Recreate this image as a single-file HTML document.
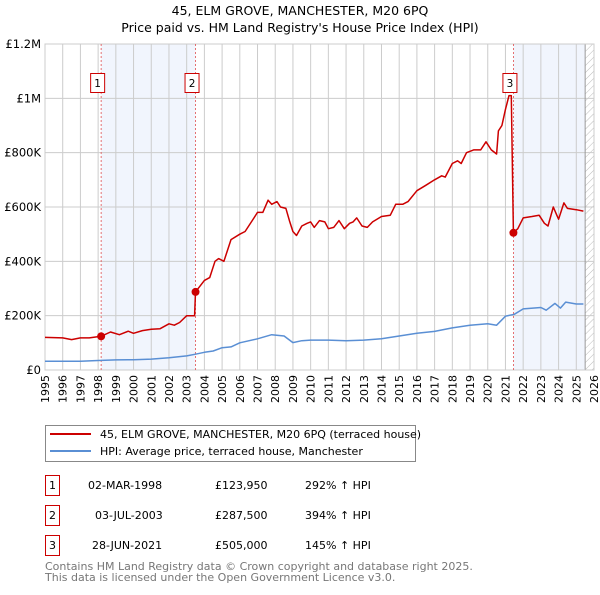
<!DOCTYPE html>
<html><head><meta charset="utf-8"><style>
body{margin:0;background:#fff;font-family:"Liberation Sans","DejaVu Sans",sans-serif}
svg text{font-family:"DejaVu Sans","Liberation Sans",sans-serif}
</style></head><body>
<svg id="c" width="600" height="590" xmlns="http://www.w3.org/2000/svg">
<defs><pattern id="hatch" width="5" height="5" patternUnits="userSpaceOnUse" patternTransform="rotate(45)"><line x1="0" y1="0" x2="0" y2="5" stroke="#bbb" stroke-width="1"/></pattern></defs>
<text x="300" y="15" text-anchor="middle" font-size="12.5">45, ELM GROVE, MANCHESTER, M20 6PQ</text>
<text x="300" y="32" text-anchor="middle" font-size="12.5">Price paid vs. HM Land Registry's House Price Index (HPI)</text>
<g id="plot"></g>
<g>
<rect x="45.5" y="425.5" width="370" height="36" fill="#fff" stroke="#888"/>
<line x1="50" y1="434" x2="91" y2="434" stroke="#cc0000" stroke-width="2"/>
<text x="100" y="438" font-size="11">45, ELM GROVE, MANCHESTER, M20 6PQ (terraced house)</text>
<line x1="50" y1="451" x2="91" y2="451" stroke="#5a8fd4" stroke-width="2"/>
<text x="100" y="455" font-size="11">HPI: Average price, terraced house, Manchester</text>
</g>
<g font-size="11">
<rect x="45.5" y="475.5" width="14" height="20" fill="#fff" stroke="#cc0000"/><text x="52.5" y="489" text-anchor="middle">1</text>
<text x="88" y="489">02-MAR-1998</text><text x="215" y="489">£123,950</text><text x="305" y="489">292% ↑ HPI</text>
<rect x="45.5" y="505.5" width="14" height="20" fill="#fff" stroke="#cc0000"/><text x="52.5" y="519" text-anchor="middle">2</text>
<text x="95" y="519">03-JUL-2003</text><text x="215" y="519">£287,500</text><text x="305" y="519">394% ↑ HPI</text>
<rect x="45.5" y="535.5" width="14" height="20" fill="#fff" stroke="#cc0000"/><text x="52.5" y="549" text-anchor="middle">3</text>
<text x="92" y="549">28-JUN-2021</text><text x="215" y="549">£505,000</text><text x="305" y="549">145% ↑ HPI</text>
</g>
<text x="45" y="570" font-size="11" fill="#777">Contains HM Land Registry data © Crown copyright and database right 2025.</text>
<text x="45" y="581" font-size="11" fill="#777">This data is licensed under the Open Government Licence v3.0.</text>
</svg>
<script>
const yearTicks=[1995,1996,1997,1998,1999,2000,2001,2002,2003,2004,2005,2006,2007,2008,2009,2010,2011,2012,2013,2014,2015,2016,2017,2018,2019,2020,2021,2022,2023,2024,2025,2026];
const valueTicks=[0,200000,400000,600000,800000,1000000,1200000];
const valueTickLabels=["£0","£200K","£400K","£600K","£800K","£1M","£1.2M"];
const redT=[1995,1996,1996.5,1997,1997.5,1998.17,1998.7,1999.2,1999.7,2000,2000.5,2001,2001.5,2002,2002.3,2002.6,2003,2003.45,2003.5,2004,2004.3,2004.6,2004.8,2005.1,2005.5,2006,2006.3,2006.8,2007,2007.3,2007.6,2007.8,2008.1,2008.3,2008.6,2008.8,2009,2009.2,2009.5,2009.8,2010,2010.2,2010.5,2010.8,2011,2011.3,2011.6,2011.9,2012.2,2012.4,2012.6,2012.9,2013.2,2013.5,2014,2014.5,2014.8,2015.2,2015.5,2016,2016.5,2017,2017.4,2017.6,2018,2018.3,2018.5,2018.8,2019.2,2019.6,2019.9,2020.2,2020.5,2020.6,2020.8,2021,2021.2,2021.33,2021.45,2021.7,2022,2022.5,2022.9,2023.2,2023.4,2023.7,2023.9,2024,2024.3,2024.5,2025,2025.4];
const redV=[120000,118000,112000,118000,118000,123950,140000,130000,143000,135000,145000,150000,152000,170000,165000,175000,200000,200000,287500,330000,340000,400000,410000,400000,480000,500000,510000,560000,580000,580000,625000,610000,620000,600000,595000,550000,510000,495000,530000,540000,545000,525000,550000,545000,520000,525000,550000,520000,540000,545000,560000,530000,525000,545000,565000,570000,610000,610000,620000,660000,680000,700000,715000,710000,760000,770000,760000,800000,810000,810000,840000,810000,795000,880000,900000,960000,1010000,1010000,505000,520000,560000,565000,570000,540000,530000,600000,570000,555000,615000,595000,590000,585000];
const blueT=[1995,1997,1998,1999,2000,2001,2002,2003,2003.5,2004,2004.5,2005,2005.5,2006,2007,2007.8,2008.5,2009,2009.5,2010,2011,2012,2013,2014,2015,2016,2017,2018,2019,2020,2020.5,2021,2021.5,2022,2023,2023.3,2023.8,2024.1,2024.4,2025,2025.4];
const blueV=[32000,32000,35000,37000,38000,40000,45000,52000,58000,65000,70000,82000,85000,100000,115000,130000,125000,101000,108000,110000,110000,108000,110000,115000,125000,135000,142000,155000,165000,170000,165000,198000,205000,225000,230000,220000,245000,228000,250000,243000,243000];
const saleT=[1998.17,2003.5,2021.45];
const saleV=[123950,287500,505000];
const saleLabels=["1","2","3"];
const X0=45,X1=594,Y0=370,Y1=44;
function xs(t){return X0+(t-1995)/(2026-1995)*(X1-X0);}
function ys(v){return Y0-v/1200000*(Y0-Y1);}
const NS="http://www.w3.org/2000/svg";
const g=document.getElementById('plot');
function mk(tag,attrs,parent){const e=document.createElementNS(NS,tag);for(const k in attrs)e.setAttribute(k,attrs[k]);(parent||g).appendChild(e);return e;}
for(let i=0;i<saleT.length;i++){
  const a=saleT[i], b=(i===0?saleT[1]:(i===1?null:2025.5));
  if(b===null)continue;
  const r=mk('rect',{x:xs(a),y:Y1,width:xs(b)-xs(a),height:Y0-Y1,fill:'#eef3fc',opacity:0.8});
  
  
}
const hr=mk('rect',{x:xs(2025.5),y:Y1,width:X1-xs(2025.5),height:Y0-Y1,fill:'url(#hatch)'});


yearTicks.forEach(t=>{
  const l=mk('line',{x1:xs(t),x2:xs(t),y1:Y1,y2:Y0,stroke:'#ccc','stroke-width':1});
  
  
  const tx=mk('text',{x:0,y:0,'font-size':11,'text-anchor':'end',transform:`translate(${xs(t)+4},${Y0+5}) rotate(-90)`});
  tx.textContent=t;
  
  
});
valueTicks.forEach((v,i)=>{
  const l=mk('line',{x1:X0,x2:X1,y1:ys(v),y2:ys(v),stroke:'#ccc','stroke-width':1});
  
  
  const tx=mk('text',{x:X0-4,y:ys(v)+4,'font-size':11.5,'text-anchor':'end'});
  tx.textContent=valueTickLabels[i];
  
  
});
mk('line',{x1:xs(2025.5),x2:xs(2025.5),y1:Y1,y2:Y0,stroke:'#999','stroke-width':1});
mk('rect',{x:X0,y:Y1,width:X1-X0,height:Y0-Y1,fill:'none',stroke:'#ccc'});
saleT.forEach((t,i)=>{
  const l=mk('line',{x1:xs(t),x2:xs(t),y1:Y1,y2:Y0,stroke:'#e05050','stroke-width':0.8,'stroke-dasharray':'2,2'});
  
  
});
function path(T,V,color,name){
  const d=T.map((t,i)=>(i?'L':'M')+xs(t).toFixed(1)+','+ys(V[i]).toFixed(1)).join('');
  const p=mk('path',{d:d,fill:'none',stroke:color,'stroke-width':1.5,'stroke-linejoin':'round'});
  
  
}
path(blueT,blueV,'#5a8fd4','hpi-line');
path(redT,redV,'#cc0000','price-paid-line');
saleT.forEach((t,i)=>{
  const c=mk('circle',{cx:xs(t),cy:ys(saleV[i]),r:4,fill:'#cc0000'});
  
  
  const bx=mk('rect',{x:xs(t)-10.5,y:73.5,width:14,height:19,fill:'#fff',stroke:'#cc0000'});
  
  
  const tx=mk('text',{x:xs(t)-3.5,y:87,'font-size':10.5,'text-anchor':'middle'});
  tx.textContent=saleLabels[i];
  
  
});
</script>
</body></html>
